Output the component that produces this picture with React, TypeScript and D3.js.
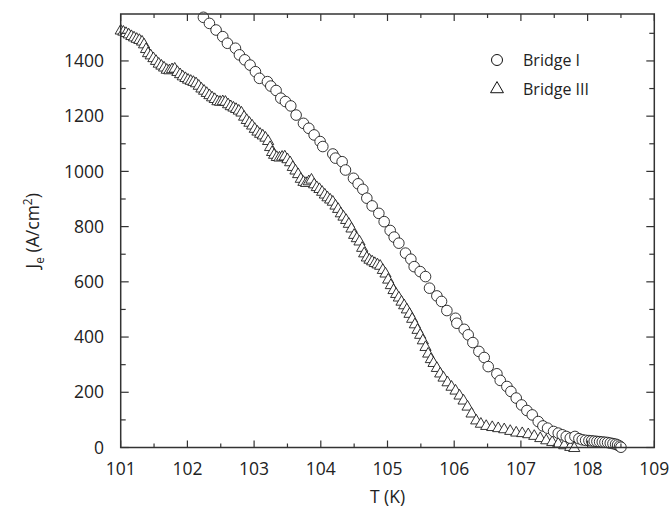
import React from "react";
import * as d3 from "d3";

const bridgeI_T = [102.24,102.33,102.43,102.53,102.6,102.72,102.78,102.86,102.94,103.02,103.08,103.2,103.25,103.33,103.4,103.47,103.55,103.63,103.74,103.82,103.9,103.99,104.03,104.18,104.22,104.32,104.37,104.49,104.56,104.63,104.69,104.77,104.87,104.95,105.04,105.1,105.17,105.27,105.35,105.4,105.49,105.57,105.63,105.74,105.81,105.89,106.02,106.04,106.15,106.21,106.28,106.37,106.45,106.51,106.64,106.69,106.79,106.85,106.93,107.01,107.09,107.17,107.26,107.33,107.4,107.49,107.56,107.62,107.68,107.74,107.81,107.87,107.92,107.97,108.02,108.06,108.1,108.14,108.18,108.22,108.26,108.3,108.34,108.38,108.42,108.45,108.48,108.5];
const bridgeI_J = [1558,1536,1512,1488,1464,1446,1422,1404,1385,1361,1337,1325,1309,1293,1265,1253,1237,1204,1174,1156,1132,1108,1090,1063,1048,1035,1005,975,955,935,903,875,848,818,786,762,740,704,682,655,637,619,577,549,529,496,468,450,428,408,380,348,326,293,267,243,221,203,179,154,134,118,94,78,70,58,52,46,40,34,40,32,28,26,25,24,23,22,21,20,19,18,16,14,12,9,5,1];

const bridgeIII_T = [101.0,101.04,101.08,101.12,101.16,101.2,101.24,101.28,101.32,101.35,101.38,101.41,101.45,101.49,101.53,101.57,101.61,101.65,101.69,101.73,101.77,101.81,101.85,101.89,101.93,101.97,102.01,102.05,102.09,102.13,102.17,102.21,102.25,102.29,102.33,102.37,102.41,102.45,102.49,102.53,102.57,102.61,102.65,102.69,102.73,102.77,102.81,102.85,102.89,102.93,102.97,103.01,103.05,103.09,103.13,103.17,103.21,103.24,103.27,103.3,103.34,103.38,103.42,103.46,103.5,103.54,103.58,103.62,103.66,103.7,103.74,103.78,103.82,103.86,103.9,103.94,103.98,104.02,104.06,104.1,104.14,104.18,104.22,104.26,104.3,104.34,104.38,104.42,104.46,104.5,104.54,104.58,104.62,104.65,104.69,104.73,104.77,104.81,104.85,104.89,104.93,104.97,105.01,105.05,105.09,105.13,105.17,105.21,105.25,105.29,105.33,105.37,105.41,105.45,105.49,105.53,105.57,105.61,105.65,105.69,105.74,105.79,105.84,105.9,105.96,106.02,106.08,106.14,106.2,106.26,106.33,106.4,106.48,106.57,106.66,106.75,106.84,106.93,107.02,107.11,107.2,107.29,107.38,107.47,107.56,107.65,107.74,107.8];
const bridgeIII_J = [1512,1508,1503,1498,1492,1487,1482,1478,1472,1462,1445,1430,1422,1412,1402,1392,1385,1378,1370,1368,1372,1374,1362,1354,1346,1340,1334,1330,1326,1321,1312,1302,1294,1286,1278,1270,1264,1256,1254,1256,1254,1245,1238,1233,1228,1222,1215,1200,1188,1178,1168,1156,1146,1138,1132,1124,1112,1090,1072,1062,1054,1052,1055,1056,1046,1035,1018,1005,992,975,964,960,966,972,955,945,938,928,918,908,900,892,878,866,850,838,826,812,795,772,760,748,725,705,690,682,676,670,665,660,645,632,610,590,572,558,545,530,517,502,486,468,448,428,410,390,366,342,322,308,290,270,255,238,222,208,190,172,150,125,100,88,80,76,72,68,62,56,54,50,44,36,28,22,16,10,4,0];

const xTicks = [101, 102, 103, 104, 105, 106, 107, 108, 109];
const yTicks = [0, 200, 400, 600, 800, 1000, 1200, 1400];
const seriesNames = ["Bridge I", "Bridge III"];

const W = 671, H = 508;
const L = 120.7, R = 654.3, T = 14, B = 447.5;
const FONT = "'Open Sans', sans-serif";
const AX = "#333";

export default function App() {
  const x = d3.scaleLinear().domain([101, 109]).range([L, R]);
  const y = d3.scaleLinear().domain([0, 1570]).range([B, T]);
  const xMinor = d3.range(101, 109.01, 0.5);
  const yMinor = d3.range(0, 1570, 100);
  const tri = d3.symbol().type(d3.symbolTriangle).size(54)()!;
  const triLeg = d3.symbol().type(d3.symbolTriangle).size(72)()!;

  const ptsI = bridgeI_T.map((t, i) => [x(t), y(bridgeI_J[i])]);
  const ptsIII = bridgeIII_T.map((t, i) => [x(t), y(bridgeIII_J[i])]);

  return (
    <svg width={W} height={H} style={{ position: "absolute", left: 0, top: 0, background: "#fff" }} fontFamily={FONT}>
      <rect x={0} y={0} width={W} height={H} fill="#fff" />
      {ptsIII.map(([px, py], i) => (
        <path key={"t" + i} d={tri} transform={`translate(${px},${py + 0.8})`} fill="#fff" stroke="#111" strokeWidth={0.85} />
      ))}
      {ptsI.map(([px, py], i) => (
        <circle key={"c" + i} cx={px} cy={py} r={5.3} fill="#fff" stroke="#111" strokeWidth={0.85} />
      ))}
      <rect x={L} y={T} width={R - L} height={B - T} fill="none" stroke={AX} strokeWidth={1.5} />
      {xMinor.map((v, i) => {
        const major = Math.abs(v - Math.round(v)) < 1e-6;
        const len = major ? 7 : 4;
        return (
          <g key={"xt" + i}>
            <line x1={x(v)} x2={x(v)} y1={B} y2={B - len} stroke={AX} strokeWidth={1.2} />
            <line x1={x(v)} x2={x(v)} y1={T} y2={T + len} stroke={AX} strokeWidth={1.2} />
          </g>
        );
      })}
      {yMinor.map((v, i) => {
        const major = v % 200 === 0;
        const len = major ? 8 : 5;
        return (
          <g key={"yt" + i}>
            <line x1={L} x2={L + len} y1={y(v)} y2={y(v)} stroke={AX} strokeWidth={1.2} />
            <line x1={R} x2={R - len} y1={y(v)} y2={y(v)} stroke={AX} strokeWidth={1.2} />
          </g>
        );
      })}
      {xTicks.map((v) => (
        <text key={"xl" + v} x={x(v)} y={475} textAnchor="middle" fontSize={17.5} fill="#222">{v}</text>
      ))}
      {yTicks.map((v) => (
        <text key={"yl" + v} x={104} y={y(v)} dy="0.35em" textAnchor="end" fontSize={17.5} fill="#222">{v}</text>
      ))}
      <text x={(L + R) / 2} y={503} textAnchor="middle" fontSize={17.5} fill="#222">T (K)</text>
      <text transform={`translate(39,${(T + B) / 2}) rotate(-90)`} textAnchor="middle" fontSize={17.5} fill="#222">
        J<tspan fontSize={12} dy={5}>e</tspan><tspan dy={-5}> (A/cm</tspan><tspan fontSize={12} dy={-7}>2</tspan><tspan dy={7}>)</tspan>
      </text>
      <circle cx={497} cy={60} r={5.5} fill="#fff" stroke="#111" strokeWidth={1} />
      <text x={523} y={66} fontSize={16} fill="#222">{seriesNames[0]}</text>
      <path d={triLeg} transform={`translate(497,89)`} fill="#fff" stroke="#111" strokeWidth={1} />
      <text x={523} y={95} fontSize={16} fill="#222">{seriesNames[1]}</text>
    </svg>
  );
}
